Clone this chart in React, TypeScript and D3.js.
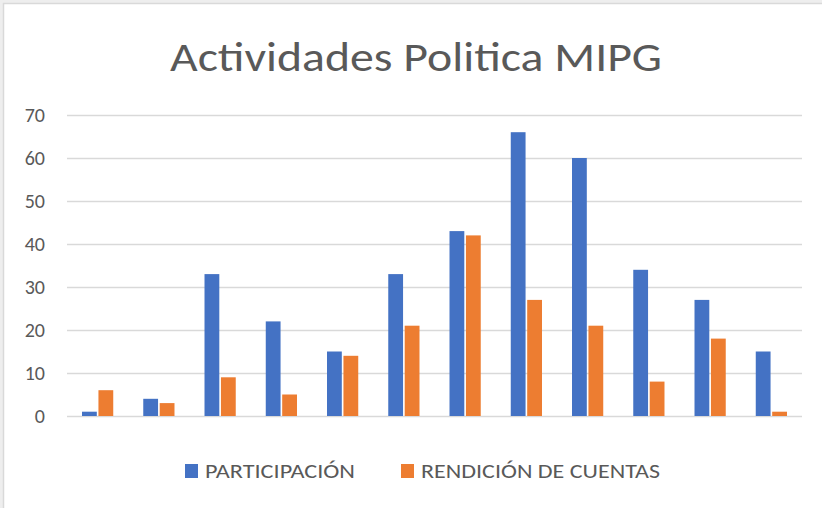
import React, { useEffect, useRef } from 'react';
import * as d3 from 'd3';

const categories = ['1', '2', '3', '4', '5', '6', '7', '8', '9', '10', '11', '12'];
const seriesNames = ['PARTICIPACIÓN', 'RENDICIÓN DE CUENTAS'];
const participacion = [1, 4, 33, 22, 15, 33, 43, 66, 60, 34, 27, 15];
const rendicion = [6, 3, 9, 5, 14, 21, 42, 27, 21, 8, 18, 1];
const yTicks = [0, 10, 20, 30, 40, 50, 60, 70];

const App = () => {
  const svgRef = useRef(null);

  useEffect(() => {
    const width = 822;
    const height = 508;
    const svg = d3.select(svgRef.current);
    svg.selectAll('*').remove();
    svg.attr('width', width).attr('height', height);

    const font = "Calibri, Carlito, Lato, 'Open Sans', sans-serif";
    const colors = ['#4472C4', '#ED7D31'];
    const textColor = '#595959';

    // fondo y marco
    svg.append('rect').attr('width', width).attr('height', height).attr('fill', '#eeeeee');
    svg.append('rect')
      .attr('x', 3.5).attr('y', 3.5)
      .attr('width', width + 10).attr('height', height + 10)
      .attr('fill', '#ffffff')
      .attr('stroke', '#d9d9d9')
      .attr('stroke-width', 1.5);

    const plot = { left: 67, right: 802, top: 115, bottom: 416 };

    const x = d3.scaleBand()
      .domain(categories)
      .range([plot.left, plot.right])
      .paddingInner(0.49)
      .paddingOuter(0.245);

    const xSub = d3.scaleBand()
      .domain(seriesNames)
      .range([0, x.bandwidth()])
      .paddingInner(0.1);

    const y = d3.scaleLinear().domain([0, 70]).range([plot.bottom, plot.top]);

    // lineas de cuadricula
    svg.append('g')
      .selectAll('line')
      .data(yTicks)
      .enter()
      .append('line')
      .attr('x1', plot.left)
      .attr('x2', plot.right)
      .attr('y1', d => Math.round(y(d)) + 0.5)
      .attr('y2', d => Math.round(y(d)) + 0.5)
      .attr('stroke', '#d9d9d9')
      .attr('stroke-width', 1.5);

    // etiquetas eje y
    svg.append('g')
      .selectAll('text')
      .data(yTicks)
      .enter()
      .append('text')
      .attr('x', 45)
      .attr('y', d => y(d))
      .attr('dy', '0.36em')
      .attr('text-anchor', 'end')
      .attr('font-family', font)
      .attr('font-size', '20px')
      .attr('fill', textColor)
      .text(d => d);

    // barras
    const series = [participacion, rendicion];
    series.forEach((values, si) => {
      svg.append('g')
        .selectAll('rect')
        .data(values)
        .enter()
        .append('rect')
        .attr('x', (d, i) => x(categories[i]) + xSub(seriesNames[si]))
        .attr('width', xSub.bandwidth())
        .attr('y', d => y(d))
        .attr('height', d => y(0) - y(d))
        .attr('fill', colors[si]);
    });

    // titulo
    svg.append('text')
      .attr('x', 416)
      .attr('y', 71)
      .attr('text-anchor', 'middle')
      .attr('font-family', font)
      .attr('font-size', '42px')
      .attr('fill', textColor)
      .attr('textLength', 492)
      .attr('lengthAdjust', 'spacingAndGlyphs')
      .text('Actividades Politica MIPG');

    // leyenda
    const legendItems = [
      { name: seriesNames[0], x: 185, len: 150, color: colors[0] },
      { name: seriesNames[1], x: 401, len: 239, color: colors[1] }
    ];
    const legend = svg.append('g');
    legendItems.forEach(item => {
      legend.append('rect')
        .attr('x', item.x)
        .attr('y', 464)
        .attr('width', 13)
        .attr('height', 14)
        .attr('fill', item.color);
      legend.append('text')
        .attr('x', item.x + 20)
        .attr('y', 478)
        .attr('font-family', font)
        .attr('font-size', '21px')
        .attr('fill', textColor)
        .attr('textLength', item.len)
        .attr('lengthAdjust', 'spacingAndGlyphs')
        .text(item.name);
    });
  }, []);

  return (
    <svg ref={svgRef} style={{ position: 'absolute', left: 0, top: 0 }}></svg>
  );
};

export default App;
